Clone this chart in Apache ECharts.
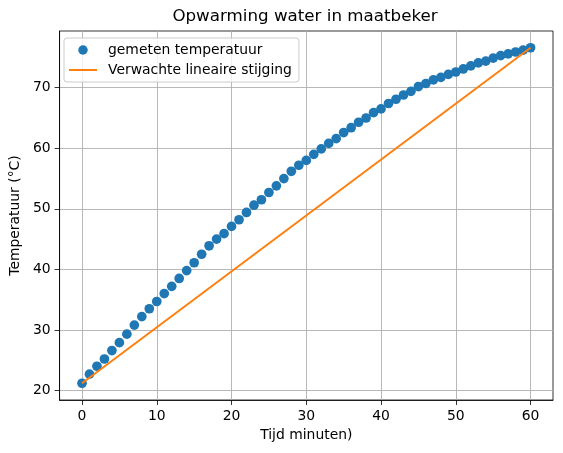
<!DOCTYPE html>
<html>
<head>
<meta charset="utf-8">
<script src="https://cdn.jsdelivr.net/npm/echarts@6/dist/echarts.min.js"></script>
<style>
html,body{margin:0;padding:0;background:#fff;}
#c{width:563px;height:453px;}
</style>
</head>
<body>
<div id="c"></div>
<script>
var minutes = [0,1,2,3,4,5,6,7,8,9,10,11,12,13,14,15,16,17,18,19,20,21,22,23,24,25,26,27,28,29,30,31,32,33,34,35,36,37,38,39,40,41,42,43,44,45,46,47,48,49,50,51,52,53,54,55,56,57,58,59,60];
var measuredTemp = [21.2,22.7,24.0,25.2,26.6,27.9,29.3,30.8,32.2,33.5,34.7,36.0,37.2,38.5,39.8,41.1,42.5,43.9,45.0,45.9,47.1,48.2,49.4,50.6,51.5,52.7,53.8,55.0,56.2,57.2,58.0,59.0,59.9,60.8,61.6,62.6,63.4,64.3,65.0,65.9,66.5,67.4,68.1,68.8,69.4,70.2,70.7,71.3,71.7,72.2,72.6,73.1,73.6,74.1,74.4,74.9,75.3,75.6,75.9,76.2,76.6];
var lineMinutes = [0, 60];
var lineTemp = [21.2, 76.6];
var xTicks = [0,10,20,30,40,50,60];
var yTicks = [20,30,40,50,60,70];

var font = 'DejaVu Sans';
var chart = echarts.init(document.getElementById('c'), null, {renderer:'canvas'});
var scatterData = minutes.map(function(m,i){return [m, measuredTemp[i]];});
var lineData = lineMinutes.map(function(m,i){return [m, lineTemp[i]];});

chart.setOption({
  backgroundColor:'#ffffff',
  animation:false,
  title:{
    text:'Opwarming water in maatbeker',
    left:305, top:8, textAlign:'center', padding:0,
    textStyle:{fontFamily:font, fontSize:16.7, fontWeight:'normal', color:'#000'}
  },
  legend:{
    orient:'vertical', left:64, top:38,
    padding:[4,7,4,5],
    itemGap:4, itemWidth:28, itemHeight:9.5,
    backgroundColor:'rgba(255,255,255,0.8)',
    borderColor:'#cccccc', borderWidth:1, borderRadius:3,
    textStyle:{fontFamily:font, fontSize:13.9, color:'#000', lineHeight:16, padding:[0,0,0,6]},
    data:[
      {name:'gemeten temperatuur', icon:'circle'},
      {name:'Verwachte lineaire stijging', icon:'path://M0,0L100,0L100,7L0,7Z', itemStyle:{color:'#ff7f0e'}}
    ]
  },
  grid:{left:58, right:10, top:31, bottom:53, containLabel:false,
        show:true, borderColor:'#000', borderWidth:0.8, backgroundColor:'transparent'},
  xAxis:{
    type:'value', min:-3, max:63,
    name:'Tijd minuten)', nameLocation:'middle', nameGap:28,
    nameTextStyle:{fontFamily:font, fontSize:13.9, color:'#000'},
    axisLine:{onZero:false, lineStyle:{color:'#000', width:0.8}},
    axisTick:{show:true, length:5, inside:false, customValues:xTicks, lineStyle:{color:'#000', width:0.8}},
    axisLabel:{customValues:xTicks, margin:9, fontFamily:font, fontSize:13.9, color:'#000'},
    splitLine:{show:true, lineStyle:{color:'#b0b0b0', width:0.9}}
  },
  yAxis:{
    type:'value', min:18.43, max:79.37,
    name:'Temperatuur (°C)', nameLocation:'middle', nameGap:26, nameRotate:90,
    nameTextStyle:{fontFamily:font, fontSize:13.9, color:'#000'},
    axisLine:{show:true, onZero:false, lineStyle:{color:'#000', width:0.8}},
    axisTick:{show:true, length:5, inside:false, customValues:yTicks, lineStyle:{color:'#000', width:0.8}},
    axisLabel:{customValues:yTicks, margin:9, fontFamily:font, fontSize:13.9, color:'#000'},
    splitLine:{show:true, lineStyle:{color:'#b0b0b0', width:0.9}}
  },
  series:[
    {
      name:'gemeten temperatuur', type:'scatter', data:scatterData,
      symbol:'circle', symbolSize:9.7,
      itemStyle:{color:'#1f77b4', opacity:1}, z:2
    },
    {
      name:'Verwachte lineaire stijging', type:'line', data:lineData,
      symbol:'none', lineStyle:{color:'#ff7f0e', width:2},
      itemStyle:{color:'#ff7f0e'}, z:3
    }
  ]
});
</script>
</body>
</html>
